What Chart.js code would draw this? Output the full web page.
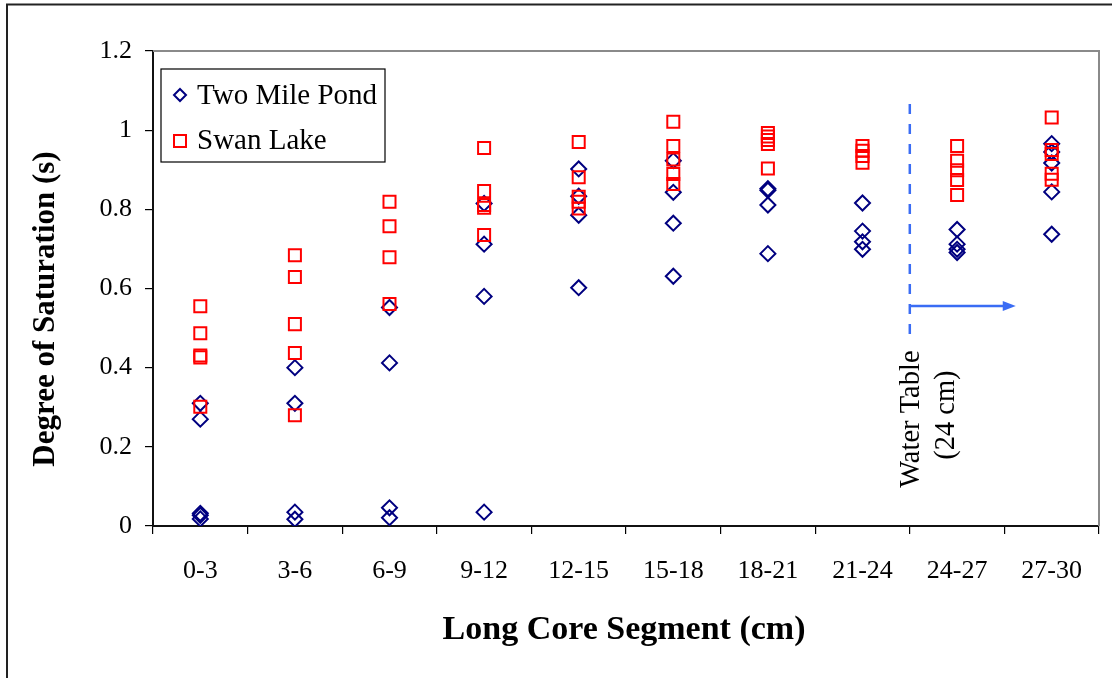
<!DOCTYPE html>
<html>
<head>
<meta charset="utf-8">
<title>Degree of Saturation</title>
<script src="https://cdn.jsdelivr.net/npm/chart.js@4.4.1/dist/chart.umd.min.js"></script>
<style>
    html, body {
        margin: 0;
        padding: 0;
        background: #ffffff;
    }
    #wrap {
        width: 1112px;
        height: 678px;
        position: relative;
    }
</style>
</head>
<body>
<div id="wrap"><canvas id="saturationChart"></canvas></div>
<script>
const categories = ['0-3', '3-6', '6-9', '9-12', '12-15', '15-18', '18-21', '21-24', '24-27', '27-30'];

// one inner list per core segment
const twoMilePond = [
    [0.31, 0.27, 0.032, 0.027, 0.018],
    [0.40, 0.31, 0.035, 0.017],
    [0.552, 0.412, 0.046, 0.021],
    [0.815, 0.712, 0.58, 0.035],
    [0.902, 0.833, 0.785, 0.602],
    [0.923, 0.843, 0.765, 0.631],
    [0.852, 0.848, 0.811, 0.688],
    [0.816, 0.745, 0.718, 0.699],
    [0.749, 0.712, 0.699, 0.691],
    [0.966, 0.945, 0.917, 0.844, 0.737]
];

const swanLake = [
    [0.555, 0.487, 0.431, 0.426, 0.301],
    [0.684, 0.629, 0.51, 0.437, 0.28],
    [0.819, 0.757, 0.679, 0.561],
    [0.955, 0.846, 0.811, 0.804, 0.735],
    [0.97, 0.881, 0.832, 0.819, 0.802],
    [1.021, 0.96, 0.926, 0.889, 0.864],
    [0.993, 0.984, 0.975, 0.965, 0.903],
    [0.96, 0.948, 0.935, 0.918],
    [0.96, 0.923, 0.899, 0.874, 0.836],
    [1.032, 0.95, 0.94, 0.89, 0.875]
];

const yTicks = [0, 0.2, 0.4, 0.6, 0.8, 1, 1.2];

// water table sits at the 21-24 / 24-27 boundary
const waterTableIndex = 7.5;
const waterTableTop = 1.066;
const waterTableBottom = 0.465;
const arrowLevel = 0.556;
const arrowEnd = 8.62;

const serif = "'Liberation Serif', 'Times New Roman', serif";
const navy = '#000080';
const red = '#ff0000';
const lineBlue = '#3a6cf4';


function toPoints(groups) {
    const points = [];
    groups.forEach((values, i) => {
        values.forEach(v => points.push({x: categories[i], y: v}));
    });
    return points;
}


const decorations = {
    id: 'decorations',
    beforeDraw(chart) {
        const {ctx} = chart;
        ctx.save();
        ctx.fillStyle = '#ffffff';
        ctx.fillRect(0, 0, chart.width, chart.height);
        // outer frame, runs off the right and bottom edges
        ctx.strokeStyle = '#222222';
        ctx.lineWidth = 2;
        ctx.strokeRect(7, 4.5, 1300, 900);
        ctx.restore();
    },
    afterDraw(chart) {
        const {ctx, chartArea} = chart;
        const xs = chart.scales.x;
        const ys = chart.scales.y;
        ctx.save();

        // top and right edges of the plot area
        ctx.strokeStyle = '#8a8a8a';
        ctx.lineWidth = 2;
        ctx.beginPath();
        ctx.moveTo(chartArea.left, chartArea.top);
        ctx.lineTo(chartArea.right, chartArea.top);
        ctx.lineTo(chartArea.right, chartArea.bottom);
        ctx.stroke();

        // water table marker
        const wx = xs.getPixelForValue(waterTableIndex);
        const ay = ys.getPixelForValue(arrowLevel);
        const ax = xs.getPixelForValue(arrowEnd);
        ctx.strokeStyle = lineBlue;
        ctx.fillStyle = lineBlue;
        ctx.lineWidth = 2.5;
        ctx.setLineDash([10, 10]);
        ctx.beginPath();
        ctx.moveTo(wx, ys.getPixelForValue(waterTableTop));
        ctx.lineTo(wx, ys.getPixelForValue(waterTableBottom));
        ctx.stroke();
        ctx.setLineDash([]);
        ctx.beginPath();
        ctx.moveTo(wx, ay);
        ctx.lineTo(ax - 10, ay);
        ctx.stroke();
        ctx.beginPath();
        ctx.moveTo(ax, ay);
        ctx.lineTo(ax - 13, ay - 5);
        ctx.lineTo(ax - 13, ay + 5);
        ctx.closePath();
        ctx.fill();

        ctx.fillStyle = '#000000';
        ctx.font = '28.5px ' + serif;
        ctx.textAlign = 'center';
        ctx.textBaseline = 'middle';
        const ty = ys.getPixelForValue(0.27);
        ctx.save();
        ctx.translate(wx + 2, ty);
        ctx.rotate(-Math.PI / 2);
        ctx.fillText('Water Table', 0, 0);
        ctx.restore();
        ctx.save();
        ctx.translate(wx + 37, ty - 4);
        ctx.rotate(-Math.PI / 2);
        ctx.fillText('(24 cm)', 0, 0);
        ctx.restore();

        // legend
        const lx = chartArea.left + 8;
        const ly = chartArea.top + 18;
        ctx.fillStyle = '#ffffff';
        ctx.fillRect(lx, ly, 224, 93);
        ctx.strokeStyle = '#000000';
        ctx.lineWidth = 1.2;
        ctx.strokeRect(lx, ly, 224, 93);

        ctx.lineWidth = 2;
        ctx.strokeStyle = navy;
        ctx.beginPath();
        ctx.moveTo(lx + 19, ly + 20);
        ctx.lineTo(lx + 25, ly + 26);
        ctx.lineTo(lx + 19, ly + 32);
        ctx.lineTo(lx + 13, ly + 26);
        ctx.closePath();
        ctx.stroke();
        ctx.strokeStyle = red;
        ctx.strokeRect(lx + 13, ly + 66, 12, 12);

        ctx.fillStyle = '#000000';
        ctx.font = '29px ' + serif;
        ctx.textAlign = 'left';
        ctx.fillText('Two Mile Pond', lx + 36, ly + 27);
        ctx.fillText('Swan Lake', lx + 36, ly + 72);

        // axis titles
        ctx.textAlign = 'center';
        ctx.font = 'bold 34px ' + serif;
        ctx.fillText('Long Core Segment (cm)', (chartArea.left + chartArea.right) / 2 - 2, 630);
        ctx.save();
        ctx.translate(46, 309);
        ctx.rotate(-Math.PI / 2);
        ctx.font = 'bold 31px ' + serif;
        ctx.fillText('Degree of Saturation (s)', 0, 0);
        ctx.restore();

        ctx.restore();
    }
};


function createChart(element) {
    return new Chart(element, {
        type: 'scatter',
        data: {
            datasets: [
                {
                    label: 'Swan Lake',
                    data: toPoints(swanLake),
                    pointStyle: 'rect',
                    pointRadius: 8.5,
                    pointHoverRadius: 8.5,
                    borderColor: red,
                    backgroundColor: 'transparent',
                    pointBorderWidth: 2,
                    order: 0,
                },
                {
                    label: 'Two Mile Pond',
                    data: toPoints(twoMilePond),
                    pointStyle: 'rectRot',
                    pointRadius: 7.5,
                    pointHoverRadius: 7.5,
                    borderColor: navy,
                    backgroundColor: 'transparent',
                    pointBorderWidth: 2,
                    order: 1,
                }
            ]
        },
        options: {
            responsive: false,
            animation: false,
            events: [],
            layout: {
                padding: {left: 0, top: 51, right: 13, bottom: 0}
            },
            plugins: {
                legend: {display: false},
                tooltip: {enabled: false},
            },
            scales: {
                x: {
                    type: 'category',
                    labels: categories,
                    offset: true,
                    grid: {
                        offset: true,
                        drawOnChartArea: false,
                        tickLength: 8,
                        color: '#000000',
                        lineWidth: 1.2,
                    },
                    border: {color: '#111111', width: 2},
                    ticks: {
                        color: '#000000',
                        padding: 22,
                        maxRotation: 0,
                        font: {family: serif, size: 26},
                    },
                    afterFit(scale) {
                        scale.height = 152;
                    }
                },
                y: {
                    min: 0,
                    max: 1.2,
                    afterBuildTicks(scale) {
                        scale.ticks = yTicks.map(v => ({value: v}));
                    },
                    grid: {
                        drawOnChartArea: false,
                        tickLength: 8,
                        color: '#000000',
                        lineWidth: 1.2,
                    },
                    border: {color: '#111111', width: 2},
                    ticks: {
                        color: '#000000',
                        padding: 13,
                        font: {family: serif, size: 26},
                        callback: value => String(Math.round(value * 10) / 10),
                    },
                    afterFit(scale) {
                        scale.width = 153;
                    }
                }
            }
        },
        plugins: [decorations],
    });
}

const canvas = document.getElementById('saturationChart');
canvas.width = 1112;
canvas.height = 678;
createChart(canvas);
</script>
</body>
</html>
